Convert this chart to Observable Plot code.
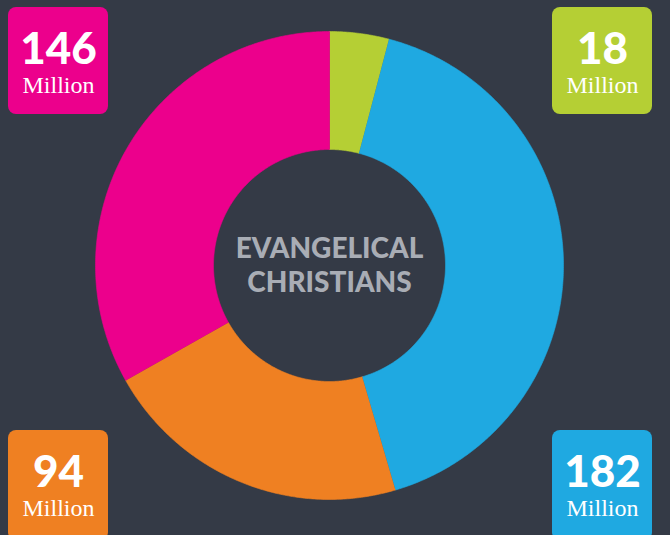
<!DOCTYPE html>
<html>
<head>
<meta charset="utf-8">
<script src="https://cdn.jsdelivr.net/npm/d3@7"></script>
<script src="https://cdn.jsdelivr.net/npm/@observablehq/plot@0.6"></script>
<style>
  html, body { margin: 0; padding: 0; background: #343a46; }
  #chart { width: 670px; height: 535px; overflow: hidden; }
</style>
</head>
<body>
<div id="chart"></div>
<script>
// ---- data ----
const categories = ["Group A", "Group B", "Group C", "Group D"];
const values = [18, 182, 94, 146];
const numberLabels = ["18", "182", "94", "146"];
const unitLabel = "Million";
const centerLines = ["EVANGELICAL", "CHRISTIANS"];

// ---- styles / layout ----
const colors = ["#b5cf34", "#1fa9e1", "#ef8022", "#ec008c"];
const W = 670, H = 535;
const cx = 329, cy = 265, R = 234, r = 116;
const corners = [["right", "top"], ["right", "bottom"], ["left", "bottom"], ["left", "top"]];
const boxX = { left: [8, 108], right: [552, 652] };
const boxY = { top: [7, 114], bottom: [430, 540] };

const total = d3.sum(values);
const slices = [];
let acc = 0;
categories.forEach((c, i) => {
  const a0 = acc / total * 2 * Math.PI;
  acc += values[i];
  const a1 = acc / total * 2 * Math.PI;
  const n = Math.max(2, Math.ceil((a1 - a0) / (Math.PI / 360)));
  const pts = [];
  for (let k = 0; k <= n; k++) {
    const t = a0 + (a1 - a0) * k / n;
    pts.push({ cat: c, x: cx + R * Math.sin(t), y: cy - R * Math.cos(t) });
  }
  for (let k = n; k >= 0; k--) {
    const t = a0 + (a1 - a0) * k / n;
    pts.push({ cat: c, x: cx + r * Math.sin(t), y: cy - r * Math.cos(t) });
  }
  slices.push(pts);
});

const boxes = categories.map((c, i) => {
  const [side, vert] = corners[i];
  return {
    cat: c,
    x1: boxX[side][0], x2: boxX[side][1],
    y1: boxY[vert][0], y2: boxY[vert][1],
    xm: (boxX[side][0] + boxX[side][1]) / 2,
    num: numberLabels[i],
    unit: unitLabel
  };
});

const chart = Plot.plot({
  width: W,
  height: H,
  margin: 0,
  x: { domain: [0, W], axis: null },
  y: { domain: [0, H], range: [0, H], axis: null },
  color: { type: "ordinal", domain: categories, range: colors },
  style: { background: "#343a46", overflow: "hidden" },
  marks: [
    ...slices.map(pts => Plot.line(pts, {
      x: "x", y: "y", fill: "cat", stroke: "cat", strokeWidth: 0.6, curve: "linear"
    })),
    Plot.rect(boxes, { x1: "x1", x2: "x2", y1: "y1", y2: "y2", fill: "cat", rx: 8 }),
    Plot.text(boxes, {
      x: "xm", y: d => d.y1 + 56, text: "num", fill: "white",
      fontFamily: "Lato", fontWeight: 900, fontSize: 44,
      textAnchor: "middle", lineAnchor: "bottom"
    }),
    Plot.text(boxes, {
      x: "xm", y: d => d.y1 + 85, text: "unit", fill: "white",
      fontFamily: "Liberation Serif", fontSize: 24,
      textAnchor: "middle", lineAnchor: "bottom"
    }),
    Plot.text([centerLines.join("\n")], {
      x: cx, y: 291, text: d => d, fill: "#a9adb5",
      fontFamily: "Lato", fontWeight: 900, fontSize: 28, lineHeight: 1.18,
      textAnchor: "middle", lineAnchor: "bottom"
    })
  ]
});
document.getElementById("chart").appendChild(chart);
</script>
</body>
</html>
